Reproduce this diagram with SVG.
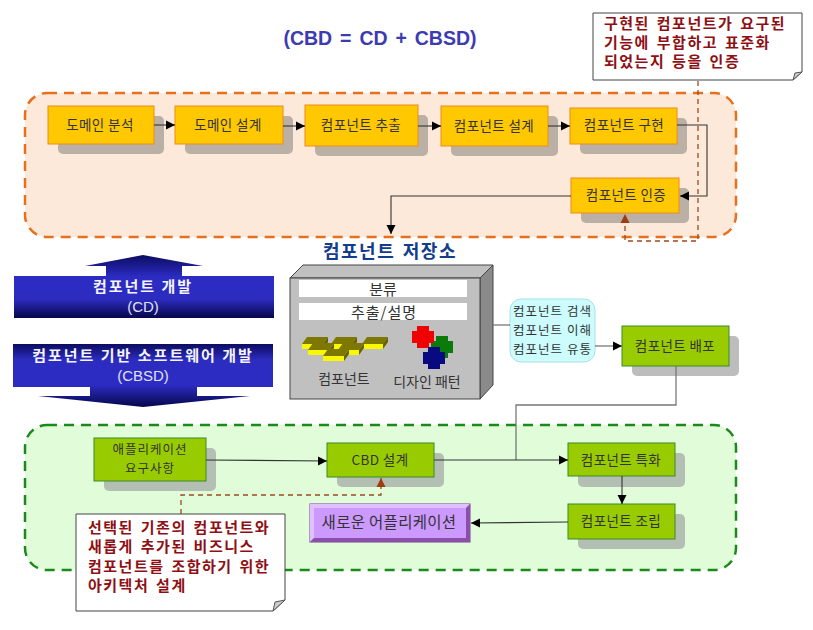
<svg xmlns="http://www.w3.org/2000/svg" width="813" height="630" viewBox="0 0 813 630">
<style>
text{font-family:"Noto Sans CJK KR","Noto Sans",sans-serif;text-anchor:middle}
.n{font-size:13.500px;letter-spacing:.4px;fill:#333}
.r{font-size:15px;font-weight:700;letter-spacing:1.500px;word-spacing:2px;fill:#8e0f14;text-anchor:start}
.c{font-size:14px;fill:#333}
.cy{font-size:12.500px;letter-spacing:1px;fill:#333}
.w{font-size:15px;font-weight:700;letter-spacing:2px;fill:#f4f4ff}
.ws{font-size:15px;fill:#e0e0f4;font-family:"Liberation Sans",sans-serif}
.o{fill:#ffc800;stroke:#ee8a1c;stroke-width:1}
.g{fill:#99cc00;stroke:#3a8a2a;stroke-width:1}
.sh1{fill:#bab0a6}
.sh2{fill:#b4bfb4}
.sh3{fill:#bdbdbd}
.l{fill:none;stroke:#333;stroke-width:1.100}
.lg{fill:none;stroke:#777;stroke-width:1.300}
.d{fill:none;stroke:#9c4a20;stroke-width:1.300;stroke-dasharray:5 4}
.note{fill:#fff;stroke:#444;stroke-width:1}
.fold{fill:#ccc;stroke:#555;stroke-width:1}
</style>
<defs>
<marker id="a" markerUnits="userSpaceOnUse" markerWidth="10" markerHeight="10" refX="9" refY="5" orient="auto"><path d="M0 0.5L9 5L0 9.500z" fill="#000"/></marker>
<marker id="b" markerUnits="userSpaceOnUse" markerWidth="10" markerHeight="10" refX="9" refY="5" orient="auto"><path d="M0 0.5L9 5L0 9.500z" fill="#9c3c10"/></marker>
<linearGradient id="bl" x1="0" y1="0" x2="0" y2="1"><stop offset="0" stop-color="#0c0c60"/><stop offset="0.35" stop-color="#2c2cc4"/><stop offset="0.7" stop-color="#2c2cc0"/><stop offset="1" stop-color="#06064a"/></linearGradient>
<linearGradient id="bl2" x1="0" y1="0" x2="0" y2="1"><stop offset="0" stop-color="#0c0c60"/><stop offset="0.25" stop-color="#2c2cc0"/><stop offset="0.65" stop-color="#2c2cc4"/><stop offset="1" stop-color="#06064a"/></linearGradient>
<path id="cross" d="M-6-11H6V-6H11V6H6V11H-6V6H-11V-6H-6z"/>
<g id="brick"><path d="M0 7L5 0H26L21 7Z" fill="#7e7800"/><path d="M0 7H21V12H0Z" fill="#f8f800"/><path d="M21 7L26 0V5L21 12Z" fill="#666200"/></g>
</defs>
<rect width="813" height="630" fill="#fff"/>
<text id="title" x="380" y="45" style="font-family:'Liberation Sans',sans-serif;font-size:19.500px;font-weight:700;word-spacing:2.500px;fill:#3c3cb0">(CBD = CD + CBSD)</text>

<g id="panel-cd"><rect x="25" y="93" width="711" height="144" rx="22" fill="#fde9d9" stroke="#e8701c" stroke-width="2.500" stroke-dasharray="10 7"/></g>
<g id="panel-cbsd"><rect x="25" y="425" width="711" height="145" rx="22" fill="#e1fcd9" stroke="#1a8a1a" stroke-width="2.500" stroke-dasharray="10 7"/></g>

<g id="n1"><rect class="sh1" x="58" y="116" width="106" height="38" rx="5"/><rect class="o" x="48" y="106" width="106" height="38"/><text class="n" x="100" y="130">도메인 분석</text></g>
<g id="n2"><rect class="sh1" x="185" y="116" width="108" height="38" rx="5"/><rect class="o" x="175" y="106" width="108" height="38"/><text class="n" x="228" y="130">도메인 설계</text></g>
<g id="n3"><rect class="sh1" x="315" y="115" width="113" height="41" rx="5"/><rect class="o" x="305" y="105" width="113" height="41"/><text class="n" x="361" y="130">컴포넌트 추출</text></g>
<g id="n4"><rect class="sh1" x="451" y="116" width="107" height="40" rx="5"/><rect class="o" x="441" y="106" width="107" height="40"/><text class="n" x="494" y="131">컴포넌트 설계</text></g>
<g id="n5"><rect class="sh1" x="580" y="118" width="107" height="36" rx="5"/><rect class="o" x="570" y="108" width="107" height="36"/><text class="n" x="624" y="130">컴포넌트 구현</text></g>
<g id="n6"><rect class="sh1" x="581" y="188" width="108" height="35" rx="5"/><rect class="o" x="571" y="178" width="108" height="35"/><text class="n" x="626" y="200">컴포넌트 인증</text></g>

<g id="note1"><path class="note" d="M593 13H802V72L793 80H593Z"/><path class="fold" d="M802 72L795 73L793 80Z"/>
<text class="r" x="604" y="29">구현된 컴포넌트가 요구된</text><text class="r" x="604" y="48">기능에 부합하고 표준화</text><text class="r" x="604" y="67">되었는지 등을 인증</text></g>

<g id="arrow-cd"><path d="M85 266L143 255L203 266H182V276H274V318H14V276H106V266Z" fill="url(#bl)"/>
<text class="w" x="143" y="292">컴포넌트 개발</text><text class="ws" x="143" y="312">(CD)</text></g>
<g id="arrow-cbsd"><path d="M13 344H273V387H197V396H250L143 407L38 396H90V387H13Z" fill="url(#bl2)"/>
<text class="w" x="143" y="361">컴포넌트 기반 소프트웨어 개발</text><text class="ws" x="143" y="381">(CBSD)</text></g>

<g id="repo">
<text x="390" y="258" style="font-size:18px;font-weight:700;letter-spacing:1.500px;word-spacing:2px;fill:#123c8c">컴포넌트 저장소</text>
<path d="M290 278L303 265H493L480 278Z" fill="#c0c0c0" stroke="#444"/>
<path d="M480 278L493 265V385L480 399Z" fill="#8a8a8a" stroke="#444"/>
<rect x="290" y="278" width="190" height="121" fill="#c0c0c0" stroke="#444"/>
<rect x="299" y="280" width="168" height="17" fill="#fff"/><text x="383" y="295" style="font-size:15px;fill:#333">분류</text>
<rect x="299" y="303" width="168" height="17" fill="#fff"/><text x="384" y="318" style="font-size:15px;letter-spacing:1px;fill:#333">추출/설명</text>
<use href="#brick" x="302" y="337"/><use href="#brick" x="331" y="337"/><use href="#brick" x="362" y="337"/><use href="#brick" x="308" y="343"/><use href="#brick" x="338" y="343"/><use href="#brick" x="323" y="349"/>
<use href="#cross" x="442" y="347" fill="#0a7a0a"/><use href="#cross" x="423" y="337" fill="#f00000"/><use href="#cross" x="434" y="358" fill="#0a0a80"/>
<text class="c" x="344" y="384">컴포넌트</text><text class="c" x="427" y="387">디자인 패턴</text>
</g>

<g id="cyan"><rect x="510" y="299" width="85" height="63" rx="11" fill="#ccfcfc" stroke="#a8e0e8"/>
<text class="cy" x="552.500" y="316">컴포넌트 검색</text><text class="cy" x="552.500" y="335">컴포넌트 이해</text><text class="cy" x="552.500" y="354">컴포넌트 유통</text></g>

<g id="n7"><rect class="sh3" x="632" y="336" width="107" height="40" rx="5"/><rect class="g" x="622" y="326" width="107" height="40"/><text class="n" x="675" y="351">컴포넌트 배포</text></g>
<g id="n8"><rect class="sh2" x="104" y="448" width="112" height="43" rx="5"/><rect class="g" x="94" y="438" width="112" height="43"/><text class="n" x="150" y="454" style="font-size:12.500px;letter-spacing:1px">애플리케이션</text><text class="n" x="150" y="473" style="font-size:12.500px;letter-spacing:1px">요구사항</text></g>
<g id="n9"><rect class="sh2" x="337" y="453" width="107" height="34" rx="5"/><rect class="g" x="327" y="443" width="107" height="34"/><text class="n" x="380" y="465">CBD 설계</text></g>
<g id="n10"><rect class="sh2" x="578" y="453" width="107" height="34" rx="5"/><rect class="g" x="568" y="443" width="107" height="33"/><text class="n" x="621" y="465">컴포넌트 특화</text></g>
<g id="n11"><rect class="sh2" x="578" y="514" width="107" height="35" rx="5"/><rect class="g" x="568" y="504" width="107" height="35"/><text class="n" x="621" y="526">컴포넌트 조립</text></g>
<g id="n12"><rect x="310" y="504" width="160" height="38" fill="#cc99ff" stroke="#7a3c9c"/><path d="M310 504H470L466 508H314V538L310 542Z" fill="#e0c0ff"/><path d="M470 504V542H310L314 538H466V508Z" fill="#8a50a8"/><text x="389" y="528" style="font-size:15.500px;letter-spacing:.3px;fill:#333">새로운 어플리케이션</text></g>

<g id="connectors">
<path class="l" d="M154 125H175" marker-end="url(#a)"/>
<path class="l" d="M283 126H305" marker-end="url(#a)"/>
<path class="l" d="M418 126H441" marker-end="url(#a)"/>
<path class="l" d="M548 126H570" marker-end="url(#a)"/>
<path class="l" d="M677 125H707V196H680" marker-end="url(#a)"/>
<path class="l" d="M571 196H391V234" marker-end="url(#a)"/>
<path class="d" d="M698 81V241H625V214" marker-end="url(#b)"/>
<path class="lg" d="M493 325H510"/>
<path class="lg" d="M595 346H622" marker-end="url(#a)"/>
<path class="lg" d="M676 366V405H516V460"/>
<path class="l" d="M206 460L327 461" marker-end="url(#a)"/>
<path class="l" d="M434 460H568" marker-end="url(#a)"/>
<path class="l" d="M622 476V504" marker-end="url(#a)"/>
<path class="l" d="M568 522L471 523" marker-end="url(#a)"/>
<path class="d" d="M181 514V495H381V478" marker-end="url(#b)"/>
</g>

<g id="note2"><path class="note" d="M76 514H285V600L273 611H76Z"/><path class="fold" d="M285 600L275 602L273 611Z"/>
<text class="r" x="88" y="533">선택된 기존의 컴포넌트와</text><text class="r" x="88" y="552">새롭게 추가된 비즈니스</text><text class="r" x="88" y="572">컴포넌트를 조합하기 위한</text><text class="r" x="88" y="591">아키텍처 설계</text></g>
</svg>
